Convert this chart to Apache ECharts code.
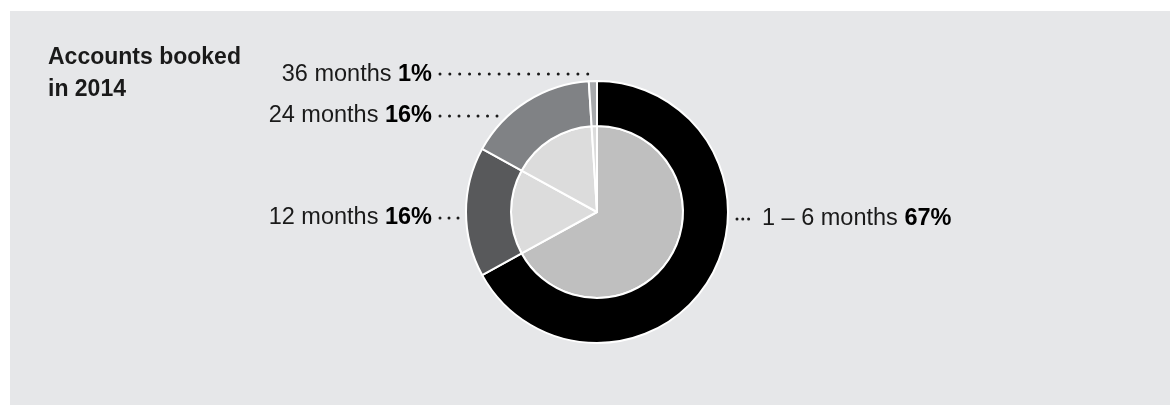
<!DOCTYPE html>
<html>
<head>
<meta charset="utf-8">
<title>Accounts booked in 2014</title>
<script src="https://cdn.jsdelivr.net/npm/echarts@6/dist/echarts.min.js"></script>
<style>
  html, body { margin: 0; padding: 0; background: #fff; }
  #chart { width: 1170px; height: 405px; }
</style>
</head>
<body>
<div id="chart"></div>
<script>
// data
const terms = ['1 – 6 months', '12 months', '24 months', '36 months']
const shares = [67, 16, 16, 1]

// colours for each ring
const outerColors = ['#000000', '#58595b', '#808285', '#a7a9ac']
const innerColors = ['#bfbfbf', '#dcdcdc', '#dcdcdc', '#dcdcdc']

// where each label sits and where its dotted leader runs (px)
const labelSpots = [
  { x: 762, y: 219, align: 'left', line: [[737, 219], [743, 219], [748.8, 219]], gap: 5.8 },
  { x: 432, y: 218, align: 'right', line: [[440, 218], [450, 218], [458.5, 218]], gap: 9 },
  { x: 432, y: 116, align: 'right', line: [[440, 116], [470, 116], [497.5, 116]], gap: 9.5 },
  { x: 432, y: 75, align: 'right', line: [[440, 74], [520, 74], [588.3, 74]], gap: 9.85 }
]

const chart = echarts.init(document.getElementById('chart'), null, { renderer: 'canvas' })

const font = 'Liberation Sans, Arial, Helvetica, sans-serif'

const outerData = terms.map((name, i) => ({
  name,
  value: shares[i],
  itemStyle: { color: outerColors[i] },
  labelLine: {
    lineStyle: {
      type: [0.01, labelSpots[i].gap - 0.01],
      cap: 'round',
      width: 3,
      color: '#1a1a1a'
    }
  }
}))

const innerData = terms.map((name, i) => ({
  name,
  value: shares[i],
  itemStyle: { color: innerColors[i] }
}))

const option = {
  backgroundColor: '#ffffff',
  animation: false,
  graphic: [
    {
      type: 'rect',
      left: 10,
      top: 11,
      z: -10,
      shape: { width: 1160, height: 394 },
      style: { fill: '#e6e7e9' }
    }
  ],
  title: {
    text: 'Accounts booked\nin 2014',
    left: 48,
    top: 42,
    padding: 0,
    textStyle: {
      fontFamily: font,
      fontSize: 23,
      fontWeight: 'bold',
      lineHeight: 32,
      color: '#1a1a1a'
    }
  },
  series: [
    {
      name: 'inner',
      type: 'pie',
      center: [597, 212],
      radius: [0, 86],
      startAngle: 90,
      clockwise: true,
      silent: true,
      label: { show: false },
      labelLine: { show: false },
      itemStyle: { borderColor: '#ffffff', borderWidth: 2 },
      data: innerData
    },
    {
      name: 'outer',
      type: 'pie',
      center: [597, 212],
      radius: [86, 131],
      startAngle: 90,
      clockwise: true,
      silent: true,
      avoidLabelOverlap: false,
      itemStyle: { borderColor: '#ffffff', borderWidth: 2 },
      label: {
        show: true,
        position: 'outside',
        // name in regular weight, share in bold
        formatter: p => '{a|' + p.name + ' }{b|' + p.value + '%}',
        rich: {
          a: { fontFamily: font, fontSize: 23.5, color: '#1a1a1a' },
          b: { fontFamily: font, fontSize: 23.5, fontWeight: 'bold', color: '#000000' }
        }
      },
      labelLine: { show: true, length: 10, length2: 10 },
      labelLayout: params => {
        const s = labelSpots[params.dataIndex]
        return {
          x: s.x,
          y: s.y,
          align: s.align,
          verticalAlign: 'middle',
          labelLinePoints: s.line
        }
      },
      data: outerData
    }
  ]
}

chart.setOption(option)
</script>
</body>
</html>
